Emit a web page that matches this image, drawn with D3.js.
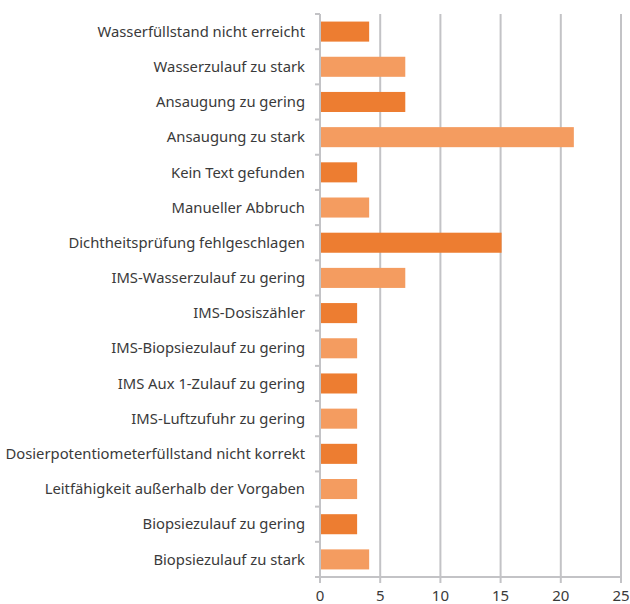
<!DOCTYPE html>
<html>
<head>
<meta charset="utf-8">
<script src="https://cdn.jsdelivr.net/npm/d3@7"></script>
<style>
  body { margin: 0; background: #fff; }
  text { font-family: "Noto Sans", sans-serif; fill: #3a3a3a; }
</style>
</head>
<body>
<div id="chart"></div>
<script>
const width = 630;
const height = 604;

const categories = [
    "Wasserfüllstand nicht erreicht",
    "Wasserzulauf zu stark",
    "Ansaugung zu gering",
    "Ansaugung zu stark",
    "Kein Text gefunden",
    "Manueller Abbruch",
    "Dichtheitsprüfung fehlgeschlagen",
    "IMS-Wasserzulauf zu gering",
    "IMS-Dosiszähler",
    "IMS-Biopsiezulauf zu gering",
    "IMS Aux 1-Zulauf zu gering",
    "IMS-Luftzufuhr zu gering",
    "Dosierpotentiometerfüllstand nicht korrekt",
    "Leitfähigkeit außerhalb der Vorgaben",
    "Biopsiezulauf zu gering",
    "Biopsiezulauf zu stark"
];
const values = [4, 7, 7, 21, 3, 4, 15, 7, 3, 3, 3, 3, 3, 3, 3, 4];
const xTicks = [0, 5, 10, 15, 20, 25];

const colors = ["#ed7d31", "#f49c60"];
const gridColor = "#c3c3c6";

const margin = {top: 14, right: 9, bottom: 27, left: 320};

const svg = d3.select("#chart")
    .append("svg")
    .attr("width", width)
    .attr("height", height);

const x = d3.scaleLinear()
    .domain([0, 25])
    .range([margin.left, width - margin.right]);

const y = d3.scaleBand()
    .domain(categories)
    .range([margin.top, height - margin.bottom])
    .paddingInner(0.43)
    .paddingOuter(0.215);

const plotBottom = height - margin.bottom;

// vertical gridlines
svg.append("g")
    .selectAll("line")
    .data(xTicks)
    .join("line")
    .attr("x1", d => x(d))
    .attr("x2", d => x(d))
    .attr("y1", margin.top)
    .attr("y2", plotBottom + 6)
    .attr("stroke", gridColor)
    .attr("stroke-width", 2);

// bottom axis line
svg.append("line")
    .attr("x1", margin.left - 5)
    .attr("x2", x(25))
    .attr("y1", plotBottom)
    .attr("y2", plotBottom)
    .attr("stroke", gridColor)
    .attr("stroke-width", 2);

// category ticks on left axis (band boundaries)
const step = y.step();
const bounds = d3.range(categories.length + 1).map(i => margin.top + i * step);
svg.append("g")
    .selectAll("line")
    .data(bounds)
    .join("line")
    .attr("x1", margin.left - 5)
    .attr("x2", margin.left)
    .attr("y1", d => d)
    .attr("y2", d => d)
    .attr("stroke", gridColor)
    .attr("stroke-width", 2);

// bars
svg.append("g")
    .selectAll("rect")
    .data(values)
    .join("rect")
    .attr("x", x(0) + 1)
    .attr("y", (d, i) => y(categories[i]))
    .attr("width", d => x(d) - x(0))
    .attr("height", y.bandwidth())
    .attr("fill", (d, i) => colors[i % 2]);

// category labels
svg.append("g")
    .selectAll("text")
    .data(categories)
    .join("text")
    .attr("x", margin.left - 15)
    .attr("y", d => y(d) + y.bandwidth() / 2)
    .attr("dy", "0.35em")
    .attr("text-anchor", "end")
    .attr("font-size", 14.8)
    .text(d => d);

// x tick labels
svg.append("g")
    .selectAll("text")
    .data(xTicks)
    .join("text")
    .attr("x", d => x(d))
    .attr("y", height - 3)
    .attr("text-anchor", "middle")
    .attr("font-size", 15)
    .text(d => d);
</script>
</body>
</html>
